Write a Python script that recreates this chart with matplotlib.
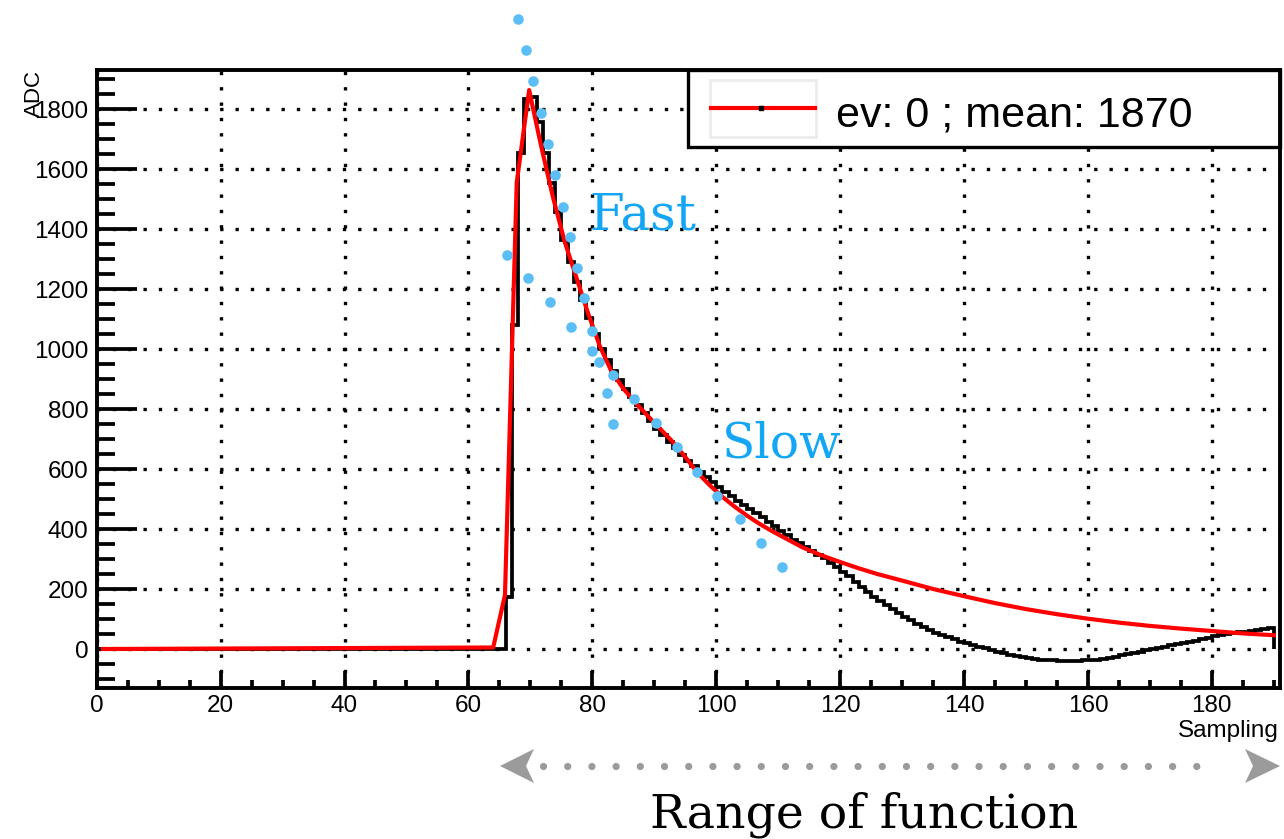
import numpy as np
import matplotlib
matplotlib.use("Agg")
import matplotlib.pyplot as plt
from matplotlib.patches import Polygon, Rectangle
from matplotlib.lines import Line2D
from matplotlib.ticker import MultipleLocator

# ---------------- data ----------------
bin_edges = np.arange(0, 191)          # 190 bins of width 1
adc_counts = [0] * 66 + [
    173, 1080, 1655, 1835, 1840, 1756, 1653, 1552, 1458, 1363,      # 66-75
    1291, 1224, 1165, 1105, 1050, 1000, 962, 928, 896, 866,         # 76-85
    840, 813, 786, 760, 735, 712, 690, 669, 648, 628,               # 86-95
    609, 591, 573, 556, 540, 525, 510, 495, 481, 467,               # 96-105
    453, 439, 424, 409, 394, 379, 365, 352, 340, 328,               # 106-115
    315, 302, 288, 273, 258, 242, 225, 208, 191, 175,               # 116-125
    161, 147, 133, 120, 108, 96, 85, 74, 64, 55,                    # 126-135
    46, 39, 32, 25, 19, 13, 7, 2, -3, -9,                           # 136-145
    -14, -19, -23, -27, -30, -33, -35, -37, -38, -39,               # 146-155
    -39, -39, -39, -38, -37, -35, -32, -29, -25, -21,               # 156-165
    -17, -13, -9, -4, 0, 4, 8, 12, 16, 20,                          # 166-175
    24, 28, 33, 38, 43, 47, 50, 53, 56, 58,                         # 176-185
    61, 63, 66, 70,                                                 # 186-189
]

fit_x = [1, 64.0, 65.9, 67.8, 69.8, 71.7, 73.6, 75.5, 77.4, 79.3, 81.2, 83.1,
         85, 87, 89, 91, 93, 95, 97, 99, 101, 103, 105, 107, 109, 111, 114,
         117, 120, 123, 126, 130, 135, 140, 145, 150, 155, 160, 165, 170,
         175, 180, 185, 190]
fit_y = [0, 5, 180, 1555, 1863, 1680, 1510, 1360, 1240, 1120, 1010, 925,
         868, 820, 776, 733, 690, 640, 587, 545, 507, 474, 444, 417, 393,
         371, 338, 312, 290, 269, 250, 228, 200, 176, 153, 133, 116, 101,
         88, 77, 68, 60, 52, 46]

fast_x = [68.0, 69.3, 70.4, 71.7, 72.8, 74.0, 75.2, 76.4, 77.5, 78.7, 79.9,
          81.1, 82.3, 83.4]
fast_y = [2100, 1997, 1893, 1787, 1683, 1580, 1474, 1373, 1270, 1170, 1060,
          957, 853, 750]
slow_x = [66.2, 69.6, 73.1, 76.5, 79.9, 83.3, 86.7, 90.2, 93.6, 96.9, 100.2,
          103.8, 107.2, 110.6]
slow_y = [1313, 1237, 1157, 1073, 993, 913, 833, 753, 673, 590, 510, 433,
          353, 273]

x_ticks = [0, 20, 40, 60, 80, 100, 120, 140, 160, 180]
y_ticks = [0, 200, 400, 600, 800, 1000, 1200, 1400, 1600, 1800]
legend_label = "ev: 0 ; mean: 1870"

# ---------------- figure ----------------
W, H = 1284, 839
fig = plt.figure(figsize=(W / 100, H / 100), dpi=100)
L, R, T, B = 96.7, 1280.0, 70.0, 688.3
ax = fig.add_axes([L / W, 1 - B / H, (R - L) / W, (B - T) / H])
ax.set_xlim(0, 191)
ax.set_ylim(-131, 1930)

SANS = "Liberation Sans"
SERIF = "DejaVu Serif"
BLUE_TXT = "#12A6F5"
BLUE_DOT = "#5BBEF6"
GREY = "#9B9B9B"


def fpx(x, y):
    return (x / W, 1 - y / H)


def apx(x, y):
    return ((x - L) / (R - L), (B - y) / (B - T))


# grid
ax.set_axisbelow(True)
ax.grid(True, which="major", color="black", lw=2.4, linestyle=(0, (1.0, 3.6)))

# ticks
ax.set_xticks(x_ticks)
ax.set_yticks(y_ticks)
ax.xaxis.set_minor_locator(MultipleLocator(5))
ax.yaxis.set_minor_locator(MultipleLocator(50))
ax.tick_params(axis="both", which="both", direction="in", width=2.7,
               color="black", top=False, right=False)
ax.tick_params(axis="y", which="major", length=29, pad=6, labelsize=17.5)
ax.tick_params(axis="y", which="minor", length=13)
ax.tick_params(axis="x", which="major", length=12, pad=4.5, labelsize=17.5)
ax.tick_params(axis="x", which="minor", length=6)
for lab in ax.get_xticklabels() + ax.get_yticklabels():
    lab.set_fontfamily(SANS)
for s in ax.spines.values():
    s.set_linewidth(2.8)
    s.set_zorder(10)

# histogram + fit
ax.stairs(adc_counts, bin_edges, baseline=0, color="black", lw=2.7, zorder=3)
ax.plot(fit_x, fit_y, color="red", lw=3.0, zorder=4)

# axis labels
ax.set_ylabel("ADC", fontsize=16, family=SANS, loc="top")
ax.yaxis.set_label_coords((45 - L) / (R - L), 1.0)
ax.set_xlabel("Sampling", fontsize=17.5, family=SANS, loc="right")
ax.xaxis.set_label_coords(apx(1279, 0)[0], apx(0, 720)[1])

# legend (drawn as in ROOT TLegend)
x0, y0 = apx(688.3, 146.7)
ax.add_patch(Rectangle((x0, y0), 1 - x0, 1 - y0, transform=ax.transAxes,
                       facecolor="white", edgecolor="black", lw=2.4,
                       zorder=8, clip_on=False))
gx0, gy0 = apx(710, 136.7)
gx1, gy1 = apx(815.7, 80)
ax.add_patch(Rectangle((gx0, gy0), gx1 - gx0, gy1 - gy0, transform=ax.transAxes,
                       facecolor="none", edgecolor="#ececec", lw=2.0,
                       zorder=9, clip_on=False))
lx0, ly = apx(711, 108.3)
lx1, _ = apx(815, 108.3)
ax.add_line(Line2D([lx0, lx1], [ly, ly], transform=ax.transAxes, color="red",
                   lw=3.0, zorder=9, clip_on=False))
mx, _ = apx(760.5, 108.3)
ax.add_line(Line2D([mx], [ly], transform=ax.transAxes, marker="s", ms=2.5,
                   color="black", zorder=10, clip_on=False))
tx, ty = apx(836, 126)
ax.text(tx, ty, legend_label, transform=ax.transAxes, fontsize=31,
        family=SANS, va="baseline", ha="left", zorder=10)

# blue guide dots (fast / slow components)
ax.scatter(fast_x, fast_y, s=58, color=BLUE_DOT, zorder=11, clip_on=False,
           linewidths=0)
ax.scatter(slow_x, slow_y, s=58, color=BLUE_DOT, zorder=11, clip_on=False,
           linewidths=0)

# annotation texts
fig.text(*fpx(589, 230), "Fast", fontsize=36, family=SERIF, color=BLUE_TXT,
         va="baseline", ha="left")
fig.text(*fpx(722, 457), "Slow", fontsize=35, family=SERIF, color=BLUE_TXT,
         va="baseline", ha="left")
fig.text(*fpx(864, 828), "Range of function", fontsize=34, family=SERIF,
         color="black", va="baseline", ha="center")

# range arrow
ay = 766
fig.add_artist(Line2D([543 / W, 1218 / W], [1 - ay / H, 1 - ay / H],
                      transform=fig.transFigure, color=GREY, lw=5.2,
                      linestyle=(0, (0.01, 3.34)), dash_capstyle="round"))
left_head = [fpx(500, ay), fpx(534, ay - 17), fpx(526, ay), fpx(534, ay + 17)]
right_head = [fpx(1280, ay), fpx(1245, ay - 17), fpx(1253, ay), fpx(1245, ay + 17)]
for pts in (left_head, right_head):
    fig.add_artist(Polygon(pts, closed=True, transform=fig.transFigure,
                           facecolor=GREY, edgecolor="none"))

fig.savefig("out.png", dpi=100)
